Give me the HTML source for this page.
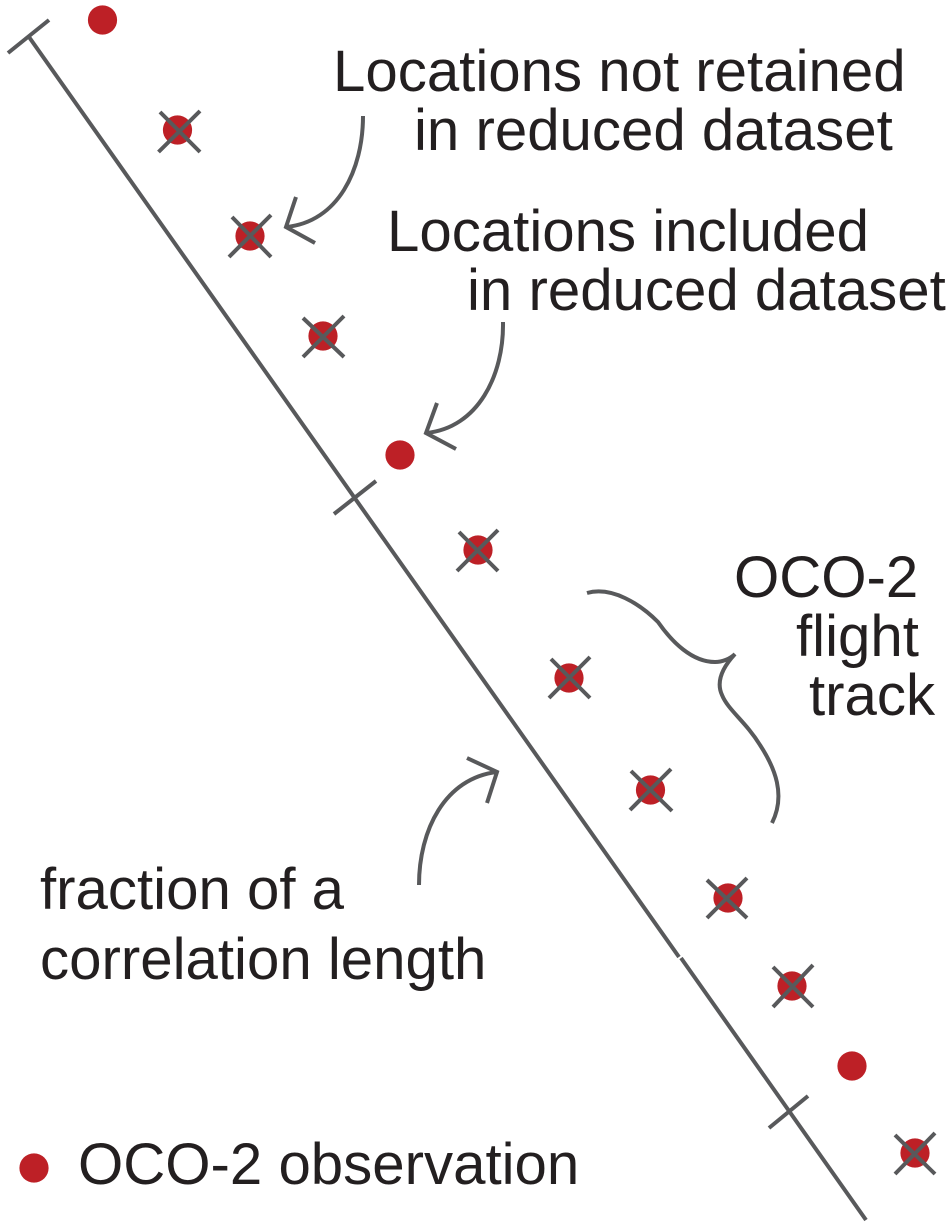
<!DOCTYPE html>
<html>
<head>
<meta charset="utf-8">
<style>
html,body{margin:0;padding:0;background:#fff;}
svg{display:block;}
text{font-family:"Liberation Sans",Arial,sans-serif;font-size:58.2px;fill:#231f20;}
.l{stroke:#58595b;stroke-width:4;fill:none;}
.x{stroke:#58595b;stroke-width:4;fill:none;}
.d{fill:#bd2026;}
</style>
</head>
<body>
<svg width="952" height="1228" viewBox="0 0 952 1228" xmlns="http://www.w3.org/2000/svg">
<!-- main line -->
<path class="l" d="M29 37 L679 957"/>
<path class="l" d="M681 958 L866 1220"/>
<path class="l" d="M8 53 L49 20"/>
<path class="l" d="M334 514 L376 481"/>
<path class="l" d="M769 1128 L808 1096"/>
<!-- dots -->
<circle class="d" cx="102.500" cy="20" r="14.600"/>
<circle class="d" cx="177.500" cy="130" r="14.600"/>
<circle class="d" cx="250" cy="236" r="14.600"/>
<circle class="d" cx="323" cy="336" r="14.600"/>
<circle class="d" cx="400" cy="455" r="14.600"/>
<circle class="d" cx="478" cy="550" r="14.600"/>
<circle class="d" cx="569" cy="678" r="14.600"/>
<circle class="d" cx="650.500" cy="790" r="14.600"/>
<circle class="d" cx="728" cy="898" r="14.600"/>
<circle class="d" cx="792" cy="986" r="14.600"/>
<circle class="d" cx="852" cy="1066" r="14.600"/>
<circle class="d" cx="915" cy="1153" r="14.600"/>
<circle class="d" cx="34" cy="1168" r="14.600"/>
<!-- crosses -->
<path class="x" d="M158.500 152 L200 111 M160 112 L200 152"/>
<path class="x" d="M229 257 L271 215 M232 217 L271 257"/>
<path class="x" d="M303 357 L344 316 M303 318 L344 357"/>
<path class="x" d="M457 571 L498 530 M459 532 L498 571"/>
<path class="x" d="M549 698 L590 657 M551 659 L590 698"/>
<path class="x" d="M630 810 L671 769 M631 771 L672 811"/>
<path class="x" d="M707 918 L747 878 M707 880 L747 918"/>
<path class="x" d="M773 1007 L813 965 M773 967 L813 1007"/>
<path class="x" d="M895 1174 L935 1133 M895 1135 L935 1174"/>
<!-- arrows -->
<path class="l" d="M363 116 C363 170 338 222 286 227"/>
<path class="l" d="M296 197 L286 227 L315 243"/>
<path class="l" d="M503 322 C504 375 478 428 426 433"/>
<path class="l" d="M437 403 L426 433 L456 449"/>
<path class="l" d="M419 885 C419 830 445 778 497 772"/>
<path class="l" d="M467 758 L497 772 L487 803"/>
<!-- brace -->
<path class="l" d="M587 593 C612 586 640 604 658 622 C672 642 692 662 715 662 C722 662 730 659 735 654 C722 668 716 682 722 695 C728 710 746 722 760 745 C775 768 786 795 772 823"/>
<!-- text -->
<text x="333" y="91">Locations not retained</text>
<text x="414" y="150">in reduced dataset</text>
<text x="387" y="251">Locations included</text>
<text x="467" y="310">in reduced dataset</text>
<text x="734" y="597">OCO-2</text>
<text x="796" y="656">flight</text>
<text x="809" y="715">track</text>
<text x="40" y="909">fraction of a</text>
<text x="40" y="979">correlation length</text>
<text x="78" y="1184">OCO-2 observation</text>
</svg>
</body>
</html>
